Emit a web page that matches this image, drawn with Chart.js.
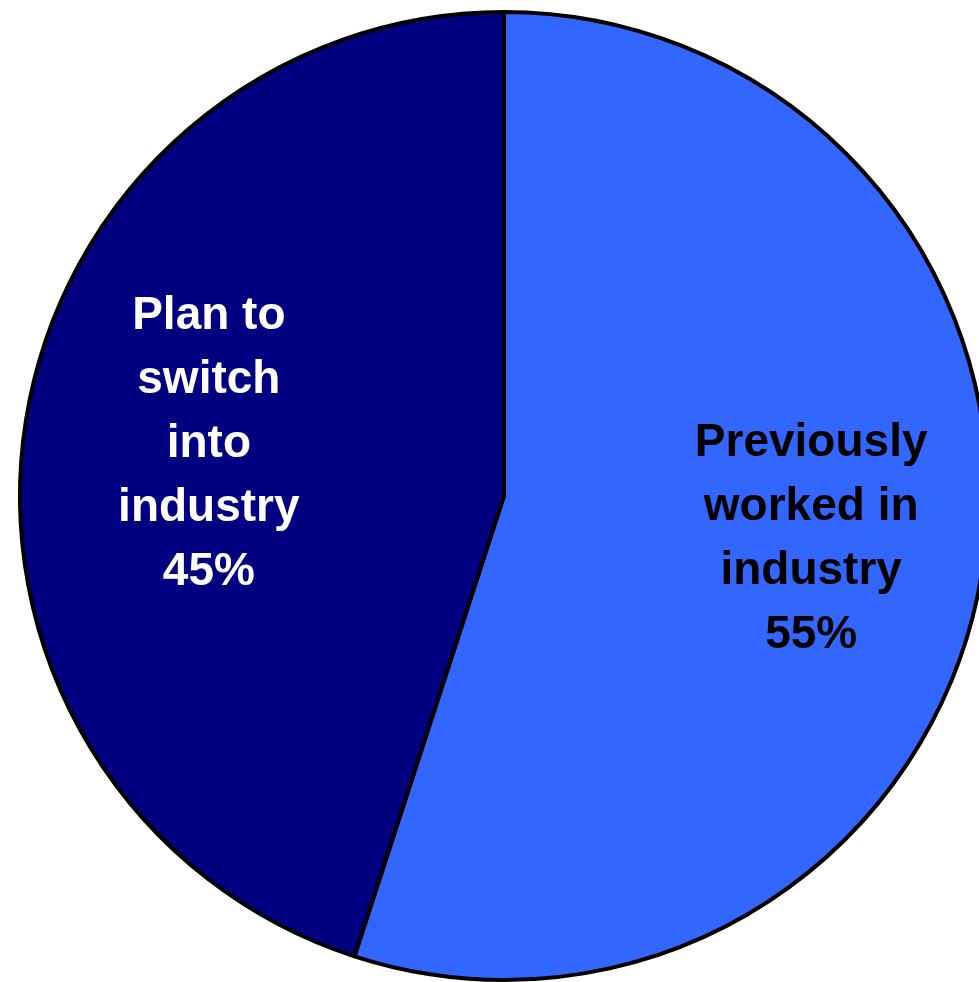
<!DOCTYPE html>
<html>
<head>
<meta charset="utf-8">
<script src="https://cdn.jsdelivr.net/npm/chart.js@4"></script>
<style>
  html, body { margin: 0; padding: 0; background: #fff; overflow: hidden; }
  #wrap { position: absolute; left: 1px; top: 0; width: 1006px; height: 992px; }
</style>
</head>
<body>
<div id="wrap"><canvas id="pie"></canvas></div>
<script>
const labels = [['Previously', 'worked in', 'industry'], ['Plan to', 'switch', 'into', 'industry']];
const values = [55, 45];
const colors = ['#3366FF', '#000080'];
const textColors = ['#000000', '#FFFFFF'];

// draws the multi-line labels inside each slice
const sliceLabels = {
    id: 'sliceLabels',
    afterDatasetsDraw(chart) {
        const ctx = chart.ctx;
        const arcs = chart.getDatasetMeta(0).data;
        ctx.save();
        ctx.font = 'bold 46px "Liberation Sans", Arial, sans-serif';
        ctx.textAlign = 'center';
        ctx.textBaseline = 'middle';
        arcs.forEach((arc, i) => {
            const p = arc.getProps(['x', 'y', 'startAngle', 'endAngle', 'outerRadius'], true);
            const mid = (p.startAngle + p.endAngle) / 2;
            const r = p.outerRadius * 0.63;
            const cx = p.x + Math.cos(mid) * r + 6;
            const cy = p.y + Math.sin(mid) * r - 4;
            const lines = labels[i].concat([values[i] + '%']);
            const lh = 64;
            const top = cy - (lines.length - 1) * lh / 2;
            ctx.fillStyle = textColors[i];
            lines.forEach((l, j) => ctx.fillText(l, cx, top + j * lh));
        });
        ctx.restore();
    }
};

new Chart(document.getElementById('pie'), {
    type: 'pie',
    data: {
        labels: labels.map(l => l.join(' ')),
        datasets: [{
            data: values,
            backgroundColor: colors,
            borderColor: '#000000',
            borderWidth: 4,
            borderAlign: 'center'
        }]
    },
    options: {
        responsive: true,
        maintainAspectRatio: false,
        animation: false,
        layout: { padding: 10 },
        plugins: {
            legend: { display: false },
            tooltip: { enabled: false }
        }
    },
    plugins: [sliceLabels]
});
</script>
</body>
</html>
